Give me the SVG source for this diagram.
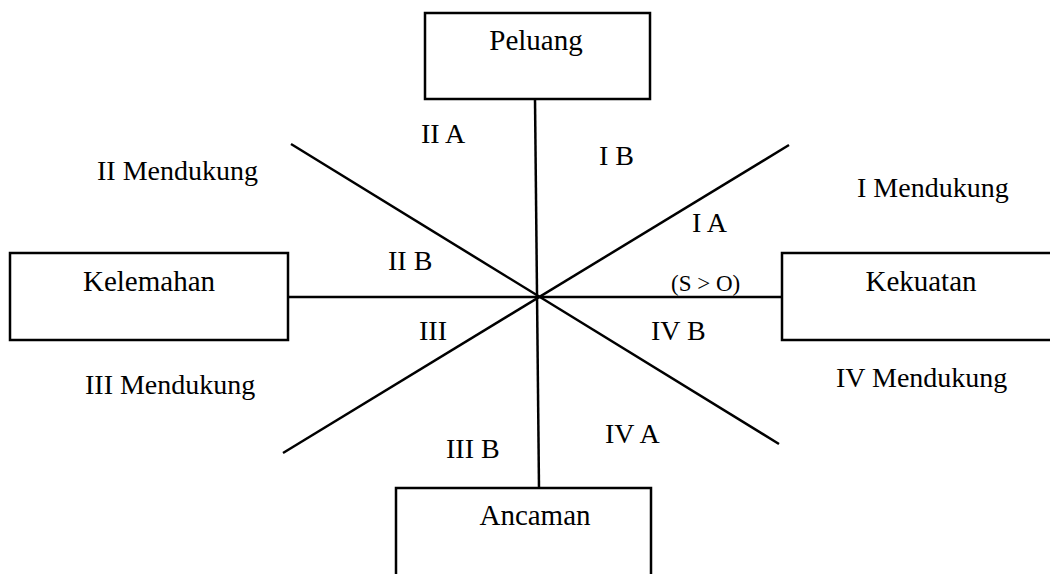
<svg xmlns="http://www.w3.org/2000/svg" width="1050" height="574" viewBox="0 0 1050 574">
<style>
.box{fill:#fff;stroke:#000;stroke-width:2.5}
.ln{stroke:#000;stroke-width:2.5;fill:none}
.t{font-family:"Liberation Serif","Times New Roman",serif;fill:#000}
.title{font-size:29px;text-anchor:middle}
.lbl{font-size:28px}
.small{font-size:23px}
</style>
<rect width="1050" height="574" fill="#fff"/>
<g id="connectors">
<line class="ln" x1="535" y1="99" x2="539" y2="488"/>
<line class="ln" x1="288" y1="297" x2="782" y2="297"/>
<line class="ln" x1="291" y1="144" x2="779" y2="444"/>
<line class="ln" x1="789" y1="145" x2="283" y2="453"/>
</g>
<g id="peluang">
<rect class="box" x="425" y="13" width="225" height="86"/>
<text class="t title" x="536" y="50">Peluang</text>
</g>
<g id="kelemahan">
<rect class="box" x="10" y="253" width="278" height="87"/>
<text class="t title" x="149" y="291">Kelemahan</text>
</g>
<g id="kekuatan">
<rect class="box" x="782" y="253" width="280" height="87"/>
<text class="t title" x="921" y="291">Kekuatan</text>
</g>
<g id="ancaman">
<rect class="box" x="396" y="488" width="255" height="100"/>
<text class="t title" x="535" y="525">Ancaman</text>
</g>
<g id="labels">
<text class="t lbl" x="421" y="143">II A</text>
<text class="t lbl" x="599" y="165">I B</text>
<text class="t lbl" x="97" y="180">II Mendukung</text>
<text class="t lbl" x="857" y="197">I Mendukung</text>
<text class="t lbl" x="692" y="232">I A</text>
<text class="t lbl" x="388" y="270">II B</text>
<text class="t small" x="671" y="291">(S &gt; O)</text>
<text class="t lbl" x="419" y="340">III</text>
<text class="t lbl" x="651" y="340">IV B</text>
<text class="t lbl" x="85" y="394">III Mendukung</text>
<text class="t lbl" x="836" y="387">IV Mendukung</text>
<text class="t lbl" x="446" y="458">III B</text>
<text class="t lbl" x="605" y="443">IV A</text>
</g>
</svg>
